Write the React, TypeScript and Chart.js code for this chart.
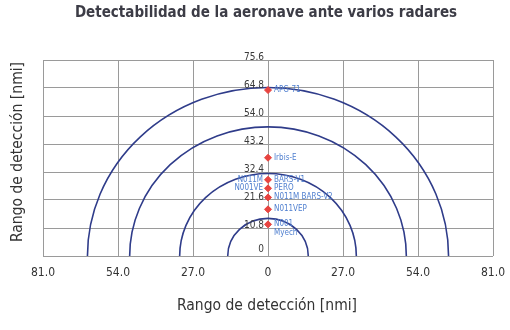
import React, { useEffect, useRef } from "react";
import { Chart, registerables } from "chart.js";

Chart.register(...registerables);

const titleText = "Detectabilidad de la aeronave ante varios radares";
const xTitle = "Rango de detección [nmi]";
const yTitle = "Rango de detección [nmi]";

const xTickValues = [-81, -54, -27, 0, 27, 54, 81];
const xTickLabels = ["81.0", "54.0", "27.0", "0", "27.0", "54.0", "81.0"];
const yTickValues = [0, 10.8, 21.6, 32.4, 43.2, 54.0, 64.8, 75.6];
const yTickLabels = ["0", "10.8", "21.6", "32.4", "43.2", "54.0", "64.8", "75.6"];

// detection ranges (nmi) drawn as semicircles
const arcRadii = [14.5, 31.8, 49.8, 65];

// radar detection ranges shown as points on the centre axis
const radarRanges = [64.0, 37.9, 29.4, 26.1, 22.6, 18.0, 12.2];
const radarRightLabels = ["APG-71", "Irbis-E", "BARS-V1", "PERO", "N011M BARS-V2", "N011VEP", "N001"];
const radarSubLabels = ["", "", "", "", "", "", "Myech"];
const radarLeftLabels = ["", "", "N011M", "N001VE", "", "", ""];

const FONT = "'Liberation Sans Narrow', 'DejaVu Sans Condensed', Roboto, sans-serif";

export default function App() {
  const ref = useRef<HTMLCanvasElement | null>(null);

  useEffect(() => {
    document.body.style.margin = "0";
    const canvas = ref.current!;
    const overlay = {
      id: "overlay",
      beforeDatasetsDraw(chart: any) {
        const { ctx, scales } = chart;
        const xs = scales.x;
        const ys = scales.y;
        const cx = xs.getPixelForValue(0);
        const cy = ys.getPixelForValue(0);
        ctx.save();
        ctx.beginPath();
        ctx.rect(chart.chartArea.left, chart.chartArea.top, chart.chartArea.right - chart.chartArea.left, chart.chartArea.bottom - chart.chartArea.top);
        ctx.clip();
        ctx.strokeStyle = "#2f3c8a";
        ctx.lineWidth = 1.6;
        arcRadii.forEach((r) => {
          const rx = xs.getPixelForValue(r) - cx;
          const ry = cy - ys.getPixelForValue(r);
          ctx.beginPath();
          ctx.ellipse(cx, cy, rx, ry, 0, Math.PI, 2 * Math.PI);
          ctx.stroke();
        });
        ctx.restore();

        // y tick labels on centre axis
        ctx.save();
        ctx.fillStyle = "#3a3a3a";
        ctx.font = "10px " + FONT;
        ctx.textAlign = "right";
        ctx.textBaseline = "bottom";
        yTickValues.forEach((v, i) => {
          const y = ys.getPixelForValue(v);
          const off = i === 0 ? -2 : 2;
          ctx.fillText(yTickLabels[i], cx - 4, y + off);
        });
        ctx.restore();
      },
      afterDatasetsDraw(chart: any) {
        const { ctx, scales } = chart;
        const xs = scales.x;
        const ys = scales.y;
        const cx = xs.getPixelForValue(0);
        ctx.save();
        ctx.fillStyle = "#4f7fcf";
        ctx.font = "8px " + FONT;
        ctx.textBaseline = "middle";
        radarRanges.forEach((v, i) => {
          const y = ys.getPixelForValue(v);
          ctx.textAlign = "left";
          ctx.fillText(radarRightLabels[i], cx + 6, y);
          if (radarSubLabels[i]) ctx.fillText(radarSubLabels[i], cx + 6, y + 9);
          if (radarLeftLabels[i]) {
            ctx.textAlign = "right";
            ctx.fillText(radarLeftLabels[i], cx - 5, y);
          }
        });
        ctx.restore();

        // titles
        ctx.save();
        ctx.fillStyle = "#3c3c46";
        ctx.font = "bold 15px " + FONT;
        ctx.textAlign = "center";
        ctx.textBaseline = "middle";
        ctx.fillText(titleText, 266, 13);
        ctx.fillStyle = "#333";
        ctx.font = "15.5px " + FONT;
        ctx.fillText(xTitle, 267, 306);
        ctx.translate(18, 152);
        ctx.rotate(-Math.PI / 2);
        ctx.fillText(yTitle, 0, 0);
        ctx.restore();
      },
    };

    const chart = new Chart(canvas, {
      type: "scatter",
      data: {
        datasets: [
          {
            data: radarRanges.map((v) => ({ x: 0, y: v })),
            backgroundColor: "#e8433f",
            borderColor: "#e8433f",
            pointStyle: "rectRot",
            pointRadius: 3.5,
          },
        ],
      },
      options: {
        responsive: false,
        animation: false,
        layout: { autoPadding: false, padding: { left: 0, right: 17, top: 60, bottom: 0 } },
        plugins: { legend: { display: false }, tooltip: { enabled: false }, title: { display: false } },
        scales: {
          x: {
            type: "linear",
            min: -81,
            max: 81,
            afterBuildTicks: (s: any) => {
              s.ticks = xTickValues.map((v) => ({ value: v }));
            },
            afterFit: (s: any) => {
              s.height = 74;
              s.paddingLeft = 0;
              s.paddingRight = 0;
            },
            ticks: {
              padding: 10,
              color: "#333",
              font: { family: FONT, size: 12 },
              callback: (_v: any, i: number) => xTickLabels[i],
              autoSkip: false,
              maxRotation: 0,
            },
            grid: { color: "#9a9a9a", lineWidth: 1, drawTicks: false },
            border: { display: false },
          },
          y: {
            type: "linear",
            min: 0,
            max: 75.6,
            afterBuildTicks: (s: any) => {
              s.ticks = yTickValues.map((v) => ({ value: v }));
            },
            afterFit: (s: any) => {
              s.width = 43;
            },
            ticks: { display: false },
            grid: { color: "#9a9a9a", lineWidth: 1, drawTicks: false },
            border: { display: false },
          },
        },
      },
      plugins: [overlay],
    });
    return () => chart.destroy();
  }, []);

  return (
    <div style={{ width: 510, height: 330, background: "#fff" }}>
      <canvas ref={ref} width={510} height={330} />
    </div>
  );
}
